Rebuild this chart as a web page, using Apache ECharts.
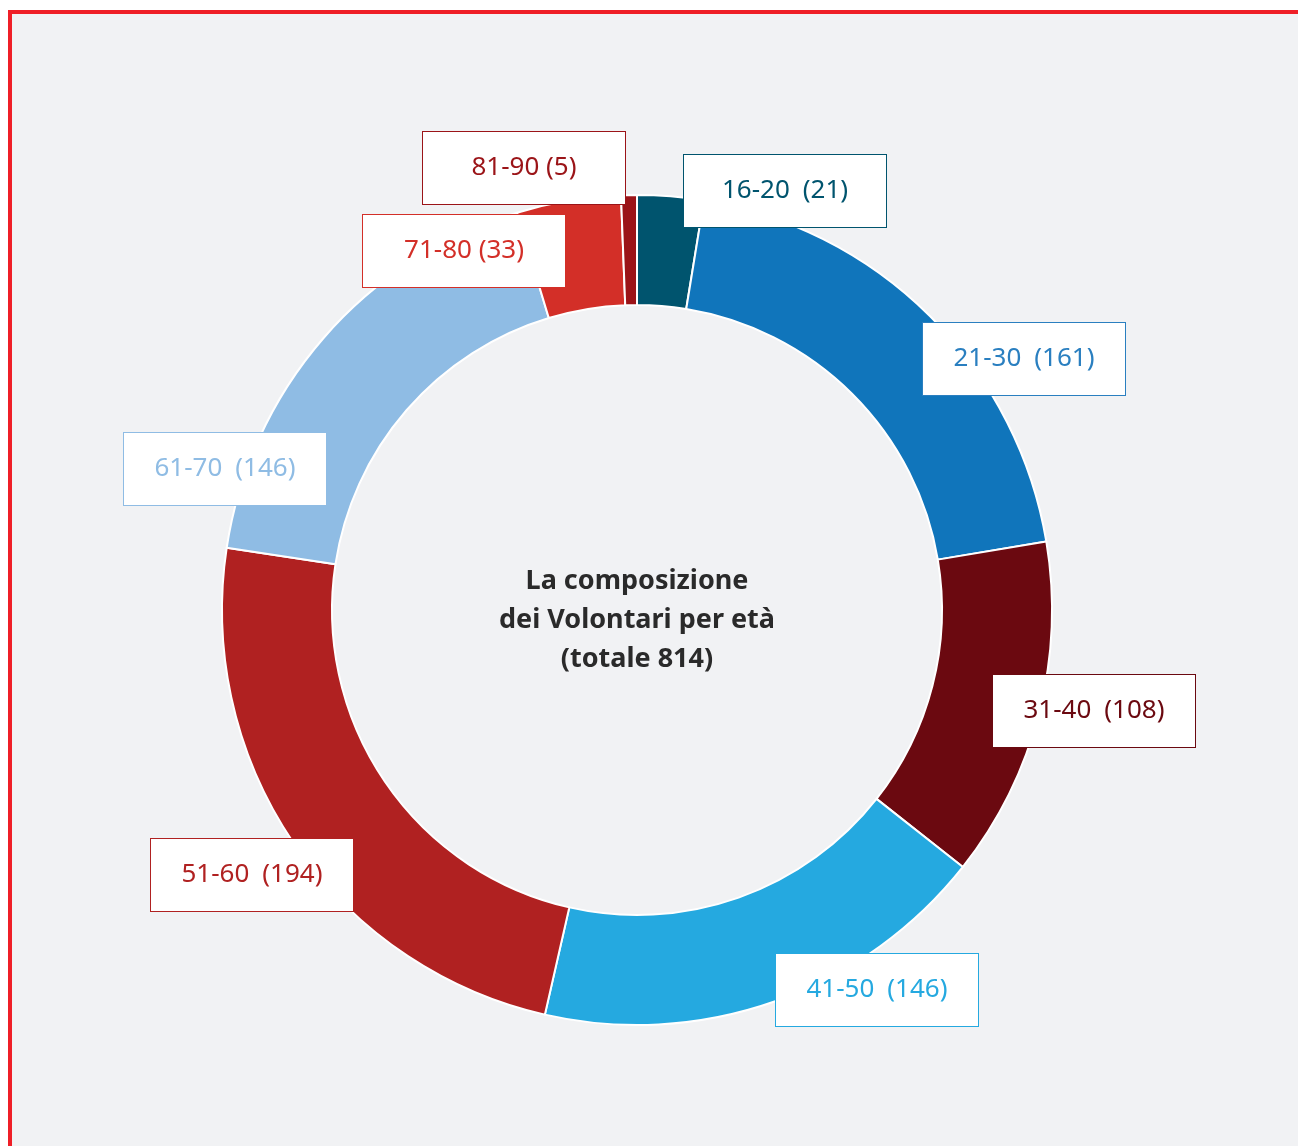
<!DOCTYPE html>
<html>
<head>
<meta charset="utf-8">
<script src="https://cdn.jsdelivr.net/npm/echarts@6/dist/echarts.min.js"></script>
<style>
  html, body { margin: 0; padding: 0; background: #ffffff; }
  #frame { position: absolute; left: 8px; top: 10px; width: 1300px; height: 1150px;
           border-left: 4px solid #ef1f27; border-top: 4px solid #ef1f27; background: #f1f2f4; }
  #chart { position: absolute; left: 0; top: 0; width: 1298px; height: 1146px; }
</style>
</head>
<body>
<div id="frame"></div>
<div id="chart"></div>
<script>
const categories = ['16-20', '21-30', '31-40', '41-50', '51-60', '61-70', '71-80', '81-90'];
const values = [21, 161, 108, 146, 194, 146, 33, 5];
const colors = ['#00546e', '#1075bb', '#6b0910', '#25a9e0', '#b02121', '#8fbce4', '#d32f28', '#9b1418'];
const labelColors = ['#00546e', '#2a7fc0', '#6b0910', '#25a9e0', '#b02121', '#8fbce4', '#d32f28', '#9b1418'];
const labelSeparators = ['\u2002', '\u2002', '\u2002', '\u2002', '\u2002', '\u2002', ' ', ' '];
const centerTitle = 'La composizione\ndei Volontari per età\n(totale 814)';
// label box centres (pixels)
const labelPos = [[785, 191], [1024, 359], [1094, 711], [877, 990], [252, 875], [225, 469], [464, 251], [524, 168]];

const chart = echarts.init(document.getElementById('chart'), null, { renderer: 'canvas' });
const data = categories.map((c, i) => ({
  name: c,
  value: values[i],
  itemStyle: { color: colors[i] },
  label: { color: labelColors[i], borderColor: labelColors[i] }
}));

chart.setOption({
  backgroundColor: 'transparent',
  animation: false,
  graphic: [{
    type: 'text',
    x: 637, y: 620,
    style: {
      text: centerTitle,
      fontFamily: 'Noto Sans',
      fontWeight: 'bold',
      fontSize: 27,
      lineHeight: 39,
      fill: '#2a2a2a',
      align: 'center',
      verticalAlign: 'middle'
    }
  }],
  series: [{
    type: 'pie',
    center: [637, 610],
    radius: [305, 415],
    startAngle: 90,
    clockwise: true,
    avoidLabelOverlap: false,
    itemStyle: { borderColor: '#ffffff', borderWidth: 2 },
    label: {
      show: true,
      position: 'outside',
      formatter: function (p) { return p.name + labelSeparators[p.dataIndex] + '(' + p.value + ')'; },
      fontFamily: 'Noto Sans',
      fontSize: 26,
      backgroundColor: '#ffffff',
      borderWidth: 1,
      width: 202,
      height: 72,
      lineHeight: 72,
      padding: 0,
      align: 'center',
      verticalAlign: 'middle'
    },
    labelLine: { show: false },
    labelLayout: function (params) {
      const p = labelPos[params.dataIndex];
      return { x: p[0], y: p[1], align: 'center', verticalAlign: 'middle', hideOverlap: false };
    },
    emphasis: { disabled: true },
    data: data
  }]
});
</script>
</body>
</html>
